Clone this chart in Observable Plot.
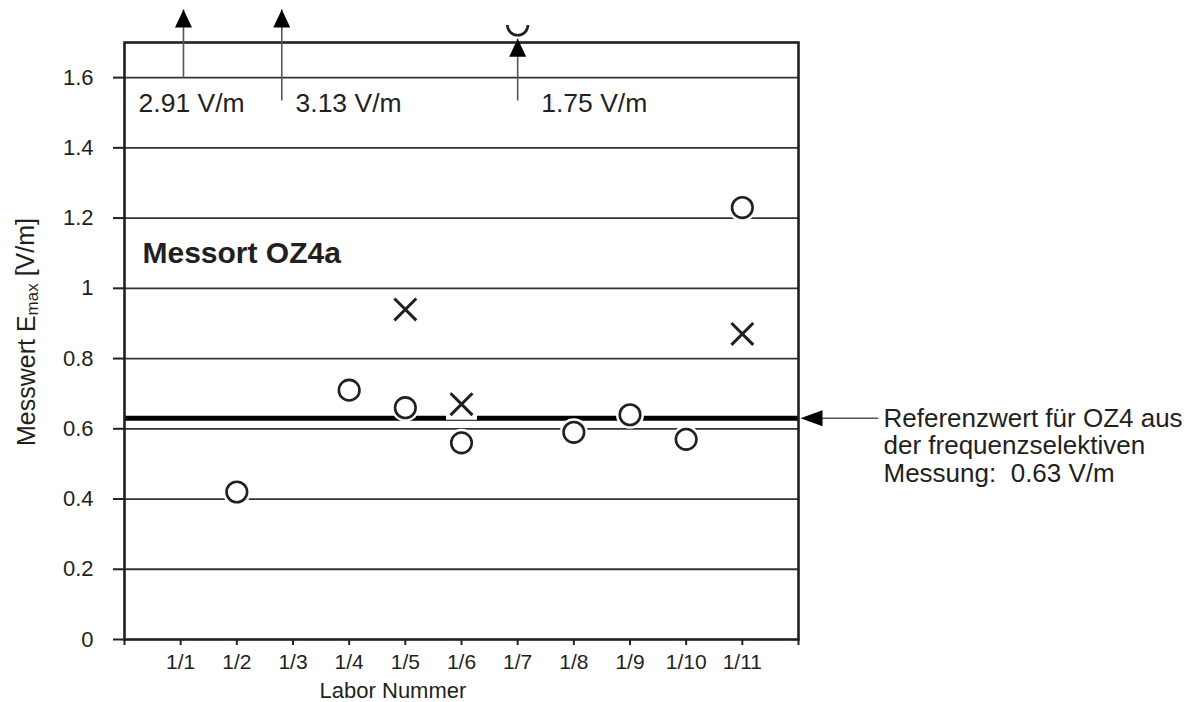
<!DOCTYPE html>
<html>
<head>
<meta charset="utf-8">
<script src="https://cdn.jsdelivr.net/npm/d3@7"></script>
<script src="https://cdn.jsdelivr.net/npm/@observablehq/plot@0.6"></script>
<style>
  body { margin: 0; background: #fff; }
  #chart svg { display: block; }
</style>
</head>
<body>
<div id="chart"></div>
<script>
// ---- data ----
const labNumbers = [1, 2, 3, 4, 5, 6, 7, 8, 9, 10, 11];
const labLabels = ["1/1", "1/2", "1/3", "1/4", "1/5", "1/6", "1/7", "1/8", "1/9", "1/10", "1/11"];
const circleLab = [2, 4, 5, 6, 7, 8, 9, 10, 11];
const circleVal = [0.42, 0.71, 0.66, 0.56, 1.75, 0.59, 0.64, 0.57, 1.23];
const crossLab = [5, 6, 11];
const crossVal = [0.94, 0.67, 0.87];
const outlierLab = [1, 3, 7];
const outlierVal = [2.91, 3.13, 1.75];
const arrowFrom = [1.6, 1.535, 1.535];
const arrowTo = [1.794, 1.794, 1.711];
const arrowShift = [0.05, -0.2, 0];
const labelShift = [-0.75, 0.045, 0.42];
const labelLevel = 1.526;
const refValue = 0.63;
const yTicks = [0, 0.2, 0.4, 0.6, 0.8, 1, 1.2, 1.4, 1.6];
const yTickLabels = ["0", "0.2", "0.4", "0.6", "0.8", "1", "1.2", "1.4", "1.6"];
const xTicks = [0, 1, 2, 3, 4, 5, 6, 7, 8, 9, 10, 11, 12];
const yMax = 1.7;
const title = "Messort OZ4a";
const xLabel = "Labor Nummer";
const refText = "Referenzwert für OZ4 aus\nder frequenzselektiven\nMessung:  0.63 V/m";

const ink = "#231f20";
const font = "'Liberation Sans', Arial, sans-serif";

// custom symbols
const triUp = { draw(ctx) { ctx.moveTo(0, 0); ctx.lineTo(8.5, 18); ctx.lineTo(-8.5, 18); ctx.closePath(); } };
const triLeft = { draw(ctx) { ctx.moveTo(0, 0); ctx.lineTo(22, -8); ctx.lineTo(22, 8); ctx.closePath(); } };
const halfCircle = { draw(ctx, size) { const r = Math.sqrt(size / Math.PI); ctx.moveTo(r, 0); ctx.arc(0, 0, r, 0, Math.PI); } };

const circles = circleLab.map((x, i) => ({ x, y: circleVal[i] }));
const inCircles = circles.filter(d => d.y <= yMax);
const offCircles = circles.filter(d => d.y > yMax);
const crosses = crossLab.map((x, i) => ({ x, y: crossVal[i] }));
const idx = d3.range(outlierLab.length);

const plot = Plot.plot({
  width: 1196,
  height: 702,
  marginLeft: 124,
  marginRight: 398,
  marginTop: 42,
  marginBottom: 63,
  style: { fontFamily: font, background: "#fff", color: ink },
  x: { domain: [0, 12] },
  y: { domain: [0, yMax] },
  marks: [
    Plot.ruleY(yTicks.filter(d => d > 0), { stroke: "#333", strokeWidth: 1.8 }),
    Plot.ruleY([refValue], { stroke: "#000", strokeWidth: 5 }),
    Plot.frame({ stroke: ink, strokeWidth: 2.6 }),
    // axes: tick marks from the library, labels as text marks on the same scales
    Plot.axisY({ ticks: yTicks, tickSize: 11, tickFormat: () => "", label: null, color: ink, strokeWidth: 2 }),
    Plot.axisX({ ticks: xTicks, tickSize: 6, tickFormat: () => "", label: null, color: ink, strokeWidth: 2 }),
    Plot.text(yTicks, { x: 0, y: d => d, text: (d, i) => yTickLabels[i], dx: -31, textAnchor: "end", fontSize: 22, fill: ink }),
    Plot.text(labNumbers, { x: d => d, y: 0, text: (d, i) => labLabels[i], dy: 23, fontSize: 21, fill: ink }),
    Plot.text([xLabel], { x: 4.78, y: 0, dy: 51, fontSize: 22, fill: ink }),
    // halos
    Plot.dot(crosses, { x: "x", y: "y", symbol: "square", r: 17.5, fill: "#fff", stroke: "none" }),
    Plot.dot(inCircles, { x: "x", y: "y", r: 14, fill: "#fff", stroke: "none" }),
    // points
    Plot.dot(inCircles, { x: "x", y: "y", r: 10.3, fill: "#fff", stroke: ink, strokeWidth: 2.6 }),
    Plot.dot(offCircles, { x: "x", y: "y", r: 10.3, symbol: halfCircle, fill: "none", stroke: ink, strokeWidth: 2.6 }),
    Plot.dot(crosses, { x: "x", y: "y", symbol: "times", r: 10, fill: "none", stroke: ink, strokeWidth: 3 }),
    // outlier arrows
    Plot.link(idx, { x1: i => outlierLab[i] + arrowShift[i], x2: i => outlierLab[i] + arrowShift[i], y1: i => arrowFrom[i], y2: i => arrowTo[i], stroke: "#555", strokeWidth: 1.6 }),
    Plot.dot(idx, { x: i => outlierLab[i] + arrowShift[i], y: i => arrowTo[i], symbol: triUp, fill: "#000", stroke: "none" }),
    Plot.text(idx, { x: i => outlierLab[i] + labelShift[i], y: labelLevel, text: i => `${outlierVal[i]} V/m`, textAnchor: "start", fontSize: 26.5, fill: ink }),
    // title
    Plot.text([title], { x: 0, y: 1.099, dx: 18, textAnchor: "start", fontSize: 30, fontWeight: "bold", fill: ink }),
    // reference annotation
    Plot.link([refValue], { x1: 12.38, x2: 13.42, y1: d => d, y2: d => d, stroke: "#555", strokeWidth: 1.5 }),
    Plot.dot([refValue], { x: 12, y: d => d, dx: 2, symbol: triLeft, fill: "#000", stroke: "none" }),
    Plot.text([refText], { x: 12, y: refValue, dx: 85, dy: -11, textAnchor: "start", lineAnchor: "top", lineHeight: 1.06, fontSize: 26, fill: ink })
  ]
});

// y-axis label with subscript
const svg = d3.select(plot);
const yl = svg.append("text")
  .attr("transform", "translate(35,332) rotate(-90)")
  .attr("text-anchor", "middle")
  .attr("font-size", 25)
  .attr("font-family", font)
  .attr("fill", ink);
yl.append("tspan").text("Messwert E");
yl.append("tspan").attr("font-size", 17).attr("dy", "0.15em").text("max");
yl.append("tspan").attr("dy", "-0.15em").text(" [V/m]");

document.getElementById("chart").appendChild(plot);
</script>
</body>
</html>
